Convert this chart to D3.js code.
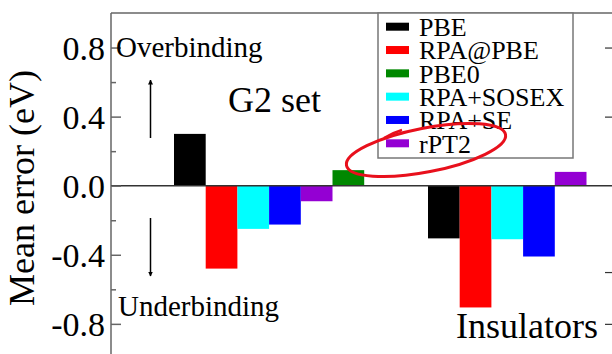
<!DOCTYPE html>
<html>
<head>
<meta charset="utf-8">
<script src="https://cdn.jsdelivr.net/npm/d3@7"></script>
<style>
  body { margin: 0; background: #fff; }
  svg { display: block; font-family: "Liberation Serif", "Times New Roman", serif; }
</style>
</head>
<body>
<div id="chart"></div>
<script>
// data
const groups = ['G2 set', 'Insulators'];
const barOrder = ['PBE', 'RPA@PBE', 'RPA+SOSEX', 'RPA+SE', 'rPT2', 'PBE0'];
const legendOrder = ['PBE', 'RPA@PBE', 'PBE0', 'RPA+SOSEX', 'RPA+SE', 'rPT2'];
const colors = ['#000000', '#ff0000', '#00ffff', '#0000ff', '#9400d3', '#008800'];
const g2Values = [0.30, -0.48, -0.25, -0.225, -0.09, 0.09];
const insulatorValues = [-0.305, -0.705, -0.31, -0.41, 0.08, null];
const majorTicks = [0.8, 0.4, 0.0, -0.4, -0.8];
const minorTicks = [0.6, 0.2, -0.2, -0.6];
const rightTicks = [0.8, 0.4, -0.5, -0.8];

const width = 612, height = 354;
const plotLeft = 111, plotTop = 13, plotRight = 613;

const svg = d3.select('#chart').append('svg')
    .attr('width', width)
    .attr('height', height);

const y = d3.scaleLinear().domain([-1, 1]).range([358.4, plotTop]);

const groupX = d3.scaleBand().domain(groups).range([174, 174 + 2 * 254]);
const barX = d3.scaleBand().domain(barOrder).range([0, 6 * 31.7]);
const colorOf = d3.scaleOrdinal().domain(barOrder).range(colors);

const bars = [];
groups.forEach((g, gi) => {
    const vals = gi === 0 ? g2Values : insulatorValues;
    barOrder.forEach((s, i) => {
        if (vals[i] !== null) bars.push({ group: g, series: s, value: vals[i] });
    });
});

// bars
svg.append('g').selectAll('rect')
    .data(bars)
    .enter()
    .append('rect')
    .attr('x', d => groupX(d.group) + barX(d.series))
    .attr('width', barX.bandwidth())
    .attr('y', d => y(Math.max(0, d.value)))
    .attr('height', d => Math.abs(y(d.value) - y(0)))
    .attr('fill', d => colorOf(d.series));

// frame
const frameColor = '#666';
svg.append('line')
    .attr('x1', plotLeft).attr('x2', plotRight)
    .attr('y1', plotTop).attr('y2', plotTop)
    .attr('stroke', frameColor).attr('stroke-width', 1.5);
svg.append('line')
    .attr('x1', plotLeft).attr('x2', plotLeft)
    .attr('y1', plotTop).attr('y2', height)
    .attr('stroke', frameColor).attr('stroke-width', 1.5);
svg.append('line')
    .attr('x1', plotLeft).attr('x2', plotRight)
    .attr('y1', y(0)).attr('y2', y(0))
    .attr('stroke', '#333').attr('stroke-width', 1.5);

// left axis
const axisL = svg.append('g').attr('transform', `translate(${plotLeft},0)`)
    .call(d3.axisLeft(y).tickValues(majorTicks).tickSize(-10).tickPadding(6)
        .tickFormat(d3.format('.1f')));
axisL.select('.domain').remove();
axisL.attr('font-family', '"Liberation Serif", serif');
axisL.selectAll('line').attr('stroke', frameColor).attr('stroke-width', 1.5);
axisL.selectAll('text')
    .attr('font-size', 34)
    .attr('fill', '#000')
    .attr('dy', '0.35em')
    .text(d => d3.format('.1f')(d).replace('−', '-'));

const axisM = svg.append('g').attr('transform', `translate(${plotLeft},0)`)
    .call(d3.axisLeft(y).tickValues(minorTicks).tickSize(-5).tickFormat(''));
axisM.select('.domain').remove();
axisM.selectAll('line').attr('stroke', frameColor).attr('stroke-width', 1.5);

// right edge ticks (neighbouring panel)
const axisR = svg.append('g').attr('transform', `translate(${plotRight},0)`)
    .call(d3.axisRight(y).tickValues(rightTicks).tickSize(-8).tickFormat(''));
axisR.select('.domain').remove();
axisR.selectAll('line').attr('stroke', '#333').attr('stroke-width', 1.2);

// y label
svg.append('text')
    .attr('transform', 'translate(34,188) rotate(-90)')
    .attr('text-anchor', 'middle')
    .attr('font-size', 36)
    .text('Mean error (eV)');

// annotations
svg.append('text').attr('x', 116).attr('y', 57).attr('font-size', 29).text('Overbinding');
svg.append('text').attr('x', 118).attr('y', 316).attr('font-size', 29).text('Underbinding');
svg.append('text').attr('x', 228).attr('y', 112).attr('font-size', 36).text('G2 set');
svg.append('text').attr('x', 456).attr('y', 338).attr('font-size', 36).text('Insulators');

const defs = svg.append('defs');
defs.append('marker')
    .attr('id', 'arrow')
    .attr('viewBox', '0 -5 10 10')
    .attr('refX', 9).attr('refY', 0)
    .attr('markerWidth', 5).attr('markerHeight', 7)
    .attr('markerUnits', 'userSpaceOnUse')
    .attr('orient', 'auto')
    .append('path')
    .attr('d', 'M0,-5L10,0L0,5Z')
    .attr('fill', '#000');

svg.append('line')
    .attr('x1', 150.5).attr('x2', 150.5).attr('y1', 138).attr('y2', 80)
    .attr('stroke', '#000').attr('stroke-width', 1.5)
    .attr('marker-end', 'url(#arrow)');
svg.append('line')
    .attr('x1', 150.5).attr('x2', 150.5).attr('y1', 218).attr('y2', 276)
    .attr('stroke', '#000').attr('stroke-width', 1.5)
    .attr('marker-end', 'url(#arrow)');

// legend
const legend = svg.append('g');
legend.append('rect')
    .attr('x', 378).attr('y', plotTop)
    .attr('width', 195).attr('height', 145)
    .attr('fill', '#fff')
    .attr('stroke', '#777').attr('stroke-width', 1.5);

const rowY = d3.scaleLinear().domain([0, 5]).range([26.7, 143.3]);
const item = legend.selectAll('g.item')
    .data(legendOrder)
    .enter()
    .append('g')
    .attr('class', 'item')
    .attr('transform', (d, i) => `translate(0,${rowY(i)})`);
item.append('rect')
    .attr('x', 386).attr('y', -4)
    .attr('width', 23).attr('height', 8)
    .attr('fill', d => colorOf(d));
item.append('text')
    .attr('x', 419).attr('y', 9.3)
    .attr('font-size', 26)
    .text(d => d);

// red hand-drawn circle round rPT2
svg.append('ellipse')
    .attr('cx', 426).attr('cy', 150)
    .attr('rx', 81).attr('ry', 22)
    .attr('transform', 'rotate(-11,426,150)')
    .attr('fill', 'none')
    .attr('stroke', '#e8101c').attr('stroke-width', 3);
svg.append('path')
    .attr('d', 'M384,138 Q392,133 402,130')
    .attr('fill', 'none')
    .attr('stroke', '#e8101c').attr('stroke-width', 2.5);
</script>
</body>
</html>
